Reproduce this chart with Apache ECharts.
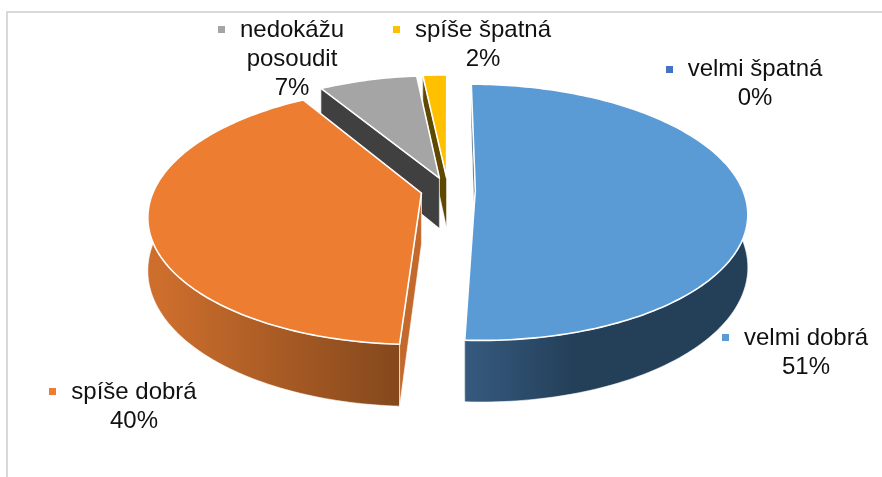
<!DOCTYPE html>
<html><head><meta charset="utf-8">
<style>html,body{margin:0;padding:0;background:#fff}#c{width:882px;height:477px}</style>
<script src="https://cdn.jsdelivr.net/npm/echarts@6/dist/echarts.min.js"></script>
</head><body><div id="c"></div>
<script>
const categories = ['velmi špatná', 'velmi dobrá', 'spíše dobrá', 'nedokážu posoudit', 'spíše špatná'];
const values = [0, 50.8, 40.5, 7.0, 1.7];
const percentLabels = ['0%', '51%', '40%', '7%', '2%'];

const keyColors = ['#4472C4', '#5B9BD5', '#ED7D31', '#A5A5A5', '#FFC000'];
const walls = [
  {edge: '#2b4a68', from: '#2b4a68', to: '#2b4a68', x0: 0, x1: 1},
  {edge: '#2b4a68', from: '#365b80', to: '#243f58', x0: 463, x1: 575},
  {edge: '#c4692c', from: '#cd6e2d', to: '#84481c', x0: 160, x1: 399},
  {edge: '#404040', from: '#404040', to: '#404040', x0: 0, x1: 1},
  {edge: '#5f4800', from: '#5f4800', to: '#5f4800', x0: 0, x1: 1}
];
const labelLines = [
  ['velmi špatná'], ['velmi dobrá'], ['spíše dobrá'], ['nedokážu', 'posoudit'], ['spíše špatná']
];
// label layout: centre x, first line y, key x, key y
const labelLayout = [
  {cx: 755, y: 69, kx: 666, ky: 66},
  {cx: 806, y: 338, kx: 722, ky: 334},
  {cx: 134, y: 392, kx: 49, ky: 388},
  {cx: 292, y: 30, kx: 218, ky: 26},
  {cx: 483, y: 30, kx: 393, ky: 26}
];

// perspective projection of the pie disc
const P = {cx: 448, cy: 190, R: 267.5, Q: 124.2, D: 51, k: 0.1718, explode: 0.102};
function project(u, v, z) {
  const w = 1 - P.k * v;
  return [P.cx + P.R * u / w, P.cy + (P.Q * v + P.D * z) / w];
}
const total = values.reduce((a, b) => a + b, 0);
const angles = [];
values.reduce((acc, val) => { angles.push([acc, acc + val]); return acc + val; }, 0);

function slice(idx) {
  const a0 = angles[idx][0] / total * 2 * Math.PI;
  const a1 = angles[idx][1] / total * 2 * Math.PI;
  const mid = (a0 + a1) / 2;
  // disc coords: u right, v towards the viewer; angle 0 at the back, clockwise
  const ox = P.explode * Math.sin(mid), oy = -P.explode * Math.cos(mid);
  const rim = [];
  const n = Math.max(2, Math.ceil((a1 - a0) / 0.02));
  for (let i = 0; i <= n; i++) {
    const a = a0 + (a1 - a0) * i / n;
    rim.push([ox + Math.sin(a), oy - Math.cos(a)]);
  }
  return {ox, oy, rim, mid};
}

function renderSlice(params, api) {
  const idx = api.value(0);
  if (values[idx] <= 0) return {type: 'group', children: []};
  const s = slice(idx), wall = walls[idx];
  const base = Math.round(-Math.cos(s.mid) * 10 + 20) * 10;
  const poly = (pts, fill, sw, z) => ({
    type: 'polygon', z2: base + z,
    shape: {points: pts},
    style: {fill, stroke: '#fff', lineWidth: sw, lineJoin: 'round'}
  });
  const first = s.rim[0], last = s.rim[s.rim.length - 1];
  const radial = (pt) => [
    project(s.ox, s.oy, 0), project(pt[0], pt[1], 0),
    project(pt[0], pt[1], 1), project(s.ox, s.oy, 1)
  ];
  const outer = s.rim.map(p => project(p[0], p[1], 0))
    .concat(s.rim.slice().reverse().map(p => project(p[0], p[1], 1)));
  const top = [project(s.ox, s.oy, 0)].concat(s.rim.map(p => project(p[0], p[1], 0)));
  const grad = {type: 'linear', global: true, x: wall.x0, y: 0, x2: wall.x1, y2: 0,
    colorStops: [{offset: 0, color: wall.from}, {offset: 1, color: wall.to}]};
  return {type: 'group', children: [
    poly(radial(last), wall.edge, 0.6, 0),
    poly(outer, grad, 0.6, 1),
    poly(radial(first), wall.edge, 0.6, 2),
    poly(top, keyColors[idx], 1.6, 3)
  ]};
}

function renderLabel(params, api) {
  const idx = api.value(0), l = labelLayout[idx];
  const font = '24px "Liberation Sans", Arial, sans-serif';
  const lineH = 29;
  const lines = labelLines[idx].concat([percentLabels[idx]]);
  const kids = lines.map((t, i) => ({
    type: 'text', z2: 2000,
    style: {text: t, x: l.cx, y: l.y + i * lineH, font, fill: '#111',
      align: 'center', verticalAlign: 'middle'}
  }));
  kids.push({type: 'rect', z2: 2000, shape: {x: l.kx, y: l.ky, width: 7, height: 7},
    style: {fill: keyColors[idx]}});
  return {type: 'group', children: kids};
}

const chart = echarts.init(document.getElementById('c'), null, {renderer: 'canvas'});
chart.setOption({
  animation: false,
  backgroundColor: '#fff',
  graphic: [
    {type: 'rect', shape: {x: 6, y: 11, width: 876, height: 2}, style: {fill: '#d9d9d9'}, silent: true},
    {type: 'rect', shape: {x: 6, y: 11, width: 2, height: 466}, style: {fill: '#d9d9d9'}, silent: true}
  ],
  series: [
    {type: 'custom', coordinateSystem: 'none', name: 'slices', silent: true,
     renderItem: renderSlice, data: values.map((v, i) => [i, v, categories[i]])},
    {type: 'custom', coordinateSystem: 'none', name: 'labels', silent: true, z: 5,
     renderItem: renderLabel, data: values.map((v, i) => [i, v, categories[i]])}
  ]
});
</script></body></html>
